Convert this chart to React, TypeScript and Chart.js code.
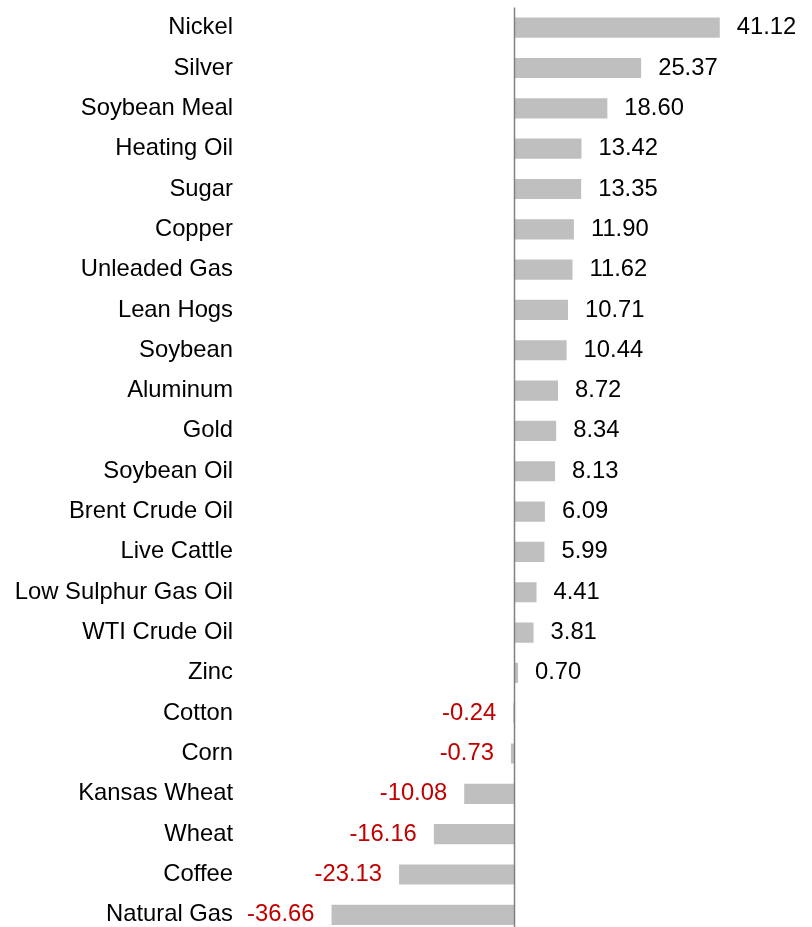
import React, { useEffect, useRef } from "react";
import { Chart, registerables } from "chart.js";

Chart.register(...registerables);

// Commodity returns (%), top to bottom
const commodities = [
  "Nickel",
  "Silver",
  "Soybean Meal",
  "Heating Oil",
  "Sugar",
  "Copper",
  "Unleaded Gas",
  "Lean Hogs",
  "Soybean",
  "Aluminum",
  "Gold",
  "Soybean Oil",
  "Brent Crude Oil",
  "Live Cattle",
  "Low Sulphur Gas Oil",
  "WTI Crude Oil",
  "Zinc",
  "Cotton",
  "Corn",
  "Kansas Wheat",
  "Wheat",
  "Coffee",
  "Natural Gas",
];

const returns = [
  41.12, 25.37, 18.6, 13.42, 13.35, 11.9, 11.62, 10.71, 10.44, 8.72, 8.34, 8.13,
  6.09, 5.99, 4.41, 3.81, 0.7, -0.24, -0.73, -10.08, -16.16, -23.13, -36.66,
];

const FONT_FAMILY = "Arial, 'Liberation Sans', sans-serif";
const FONT_SIZE = 23.8;

// Vertical zero line across the plot area
const zeroLinePlugin = {
  id: "zeroLine",
  afterDatasetsDraw(chart: any) {
    const { ctx, chartArea, scales } = chart;
    const x = scales.x.getPixelForValue(0);
    ctx.save();
    ctx.strokeStyle = "#808080";
    ctx.lineWidth = 1.5;
    ctx.beginPath();
    ctx.moveTo(x, chartArea.top);
    ctx.lineTo(x, chartArea.bottom);
    ctx.stroke();
    ctx.restore();
  },
};

// Value labels at the end of each bar; negatives in red on the left
const valueLabelPlugin = {
  id: "valueLabels",
  afterDatasetsDraw(chart: any) {
    const { ctx } = chart;
    const meta = chart.getDatasetMeta(0);
    const data = chart.data.datasets[0].data as number[];
    ctx.save();
    ctx.font = `${FONT_SIZE}px ${FONT_FAMILY}`;
    ctx.textBaseline = "middle";
    meta.data.forEach((bar: any, i: number) => {
      const v = data[i];
      const text = v.toFixed(2);
      if (v >= 0) {
        ctx.fillStyle = "#000000";
        ctx.textAlign = "left";
        ctx.fillText(text, bar.x + 17, bar.y);
      } else {
        ctx.fillStyle = "#c00000";
        ctx.textAlign = "right";
        ctx.fillText(text, bar.x - 17, bar.y);
      }
    });
    ctx.restore();
  },
};

export default function App() {
  const canvasRef = useRef<HTMLCanvasElement | null>(null);

  useEffect(() => {
    if (!canvasRef.current) return;
    const chart = new Chart(canvasRef.current, {
      type: "bar",
      data: {
        labels: commodities,
        datasets: [
          {
            data: returns,
            backgroundColor: "#bfbfbf",
            borderWidth: 0,
            barPercentage: 0.5,
            categoryPercentage: 1,
          },
        ],
      },
      options: {
        indexAxis: "y",
        responsive: false,
        animation: false,
        layout: { padding: { top: 7.5, bottom: 5, left: 0, right: 3 } },
        plugins: {
          legend: { display: false },
          tooltip: { enabled: false },
        },
        scales: {
          x: {
            display: false,
            min: -56,
            max: 59,
          },
          y: {
            grid: { display: false, drawTicks: false },
            border: { display: false },
            ticks: {
              autoSkip: false,
              padding: 2,
              color: "#000000",
              font: { family: FONT_FAMILY, size: FONT_SIZE },
            },
            afterFit(scale: any) {
              scale.width = 235;
              scale.paddingTop = 0;
              scale.paddingBottom = 0;
            },
          },
        },
      },
      plugins: [zeroLinePlugin, valueLabelPlugin],
    });
    return () => chart.destroy();
  }, []);

  return (
    <div
      style={{
        position: "fixed",
        top: 0,
        left: 0,
        width: 812,
        height: 927,
        overflow: "hidden",
        background: "#ffffff",
      }}
    >
      <canvas ref={canvasRef} width={812} height={940} />
    </div>
  );
}
